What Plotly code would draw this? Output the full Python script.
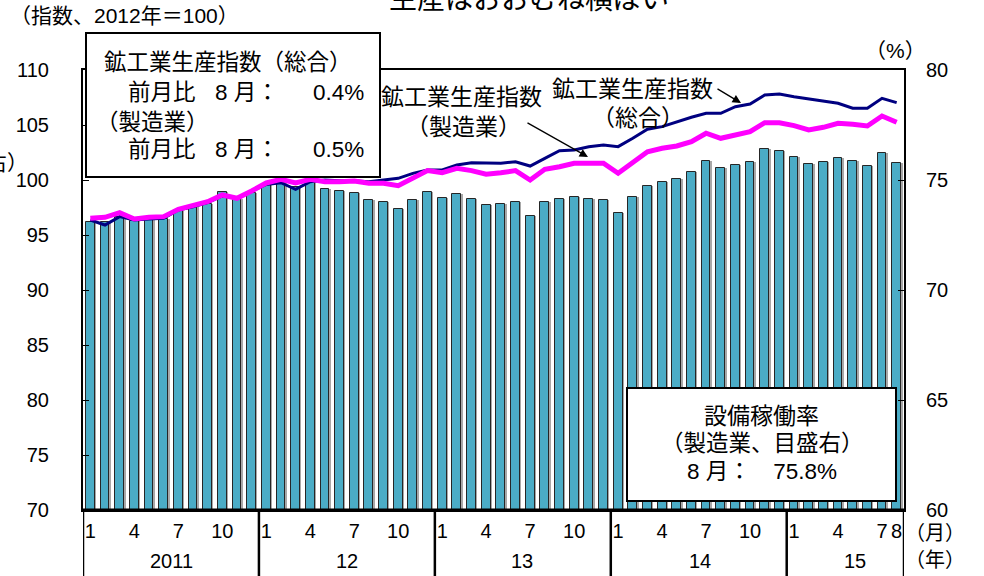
import plotly.graph_objects as go

# ---------------- data ----------------
year_labels = ["2011", "12", "13", "14", "15"]
month_tick_idx = [0, 3, 6, 9, 12, 15, 18, 21, 24, 27, 30, 33, 36, 39, 42, 45, 48, 51, 54, 55]
month_tick_text = ["1", "4", "7", "10", "1", "4", "7", "10", "1", "4", "7", "10",
                   "1", "4", "7", "10", "1", "4", "7", "8"]

# 設備稼働率（製造業、%） 2011/1 - 2015/8
capacity = [73.10, 73.08, 73.30, 73.15, 73.23, 73.23, 73.60, 73.76, 73.91, 74.44, 74.12, 74.40,
            74.77, 74.86, 74.68, 74.91, 74.59, 74.52, 74.41, 74.09, 73.98, 73.67, 74.07, 74.45,
            74.18, 74.38, 74.12, 73.85, 73.92, 73.99, 73.36, 73.99, 74.12, 74.23, 74.12, 74.11,
            73.49, 74.23, 74.75, 74.93, 75.06, 75.35, 75.86, 75.53, 75.67, 75.80, 76.40, 76.31,
            76.06, 75.71, 75.80, 76.00, 75.86, 75.65, 76.23, 75.77]

# 鉱工業生産指数（総合）
total_index = [96.36, 95.91, 96.67, 96.36, 96.45, 96.52, 97.27, 97.57, 97.94, 98.55, 98.34, 98.94,
               99.60, 99.75, 99.15, 99.85, 100.00, 99.94, 99.94, 99.85, 100.00, 100.15, 100.60, 100.90,
               100.91, 101.36, 101.57, 101.52, 101.52, 101.66, 101.27, 101.97, 102.66, 102.73, 103.03, 103.18,
               103.03, 103.79, 104.61, 104.85, 105.30, 105.70, 106.06, 106.06, 106.66, 106.91, 107.73, 107.82,
               107.57, 107.39, 107.21, 106.97, 106.52, 106.52, 107.43, 107.03]

# 鉱工業生産指数（製造業）
mfg_index = [96.52, 96.61, 97.03, 96.45, 96.61, 96.67, 97.34, 97.73, 98.03, 98.64, 98.34, 99.00,
             99.73, 100.06, 99.73, 100.06, 99.85, 99.85, 99.91, 99.70, 99.70, 99.48, 100.15, 100.85,
             100.66, 101.06, 100.85, 100.52, 100.66, 100.85, 100.00, 100.97, 101.21, 101.52, 101.52, 101.52,
             100.61, 101.66, 102.57, 102.88, 103.09, 103.48, 104.25, 103.79, 104.09, 104.39, 105.21, 105.21,
             104.94, 104.55, 104.79, 105.15, 105.06, 104.91, 105.82, 105.25]

idx = list(range(len(capacity)))

# ---------------- layout helpers ----------------
L, T, W, H = 83, 70, 821, 440
FIG_W, FIG_H = 984, 576


def px(x):
    return (x - L) / W


def py(y):
    return (T + H - y) / H


FONT = "Liberation Sans, Arial, Noto Sans CJK JP, sans-serif"

fig = go.Figure()

# bar shadow
fig.add_trace(go.Bar(x=idx, y=capacity, yaxis="y", width=0.6, offset=-0.2,
                     marker=dict(color="#a8a8a8", line=dict(width=0)),
                     showlegend=False, hoverinfo="skip"))
# bars
fig.add_trace(go.Bar(x=idx, y=capacity, yaxis="y", width=0.6, offset=-0.3,
                     marker=dict(color="#4bacc6", line=dict(color="#262626", width=1)),
                     showlegend=False))
# lines
fig.add_trace(go.Scatter(x=idx, y=total_index, yaxis="y2", mode="lines",
                         line=dict(color="#000080", width=3), showlegend=False))
fig.add_trace(go.Scatter(x=idx, y=mfg_index, yaxis="y2", mode="lines",
                         line=dict(color="#ff00ff", width=5), showlegend=False))

shapes = []
# year separators below axis
for b in [-0.5, 11.5, 23.5, 35.5, 47.5, 55.5]:
    shapes.append(dict(type="line", xref="x", yref="paper", x0=b, x1=b,
                       y0=0, y1=-(FIG_H - T - H) / H - 0.01, line=dict(color="black", width=2.5)))
# bottom axis thicker
shapes.append(dict(type="line", xref="paper", yref="paper", x0=0, x1=1, y0=0, y1=0,
                   line=dict(color="black", width=3)))
# legend boxes
shapes.append(dict(type="rect", xref="paper", yref="paper", x0=px(86), x1=px(380),
                   y0=py(177), y1=py(33), fillcolor="white", line=dict(color="black", width=2)))
shapes.append(dict(type="rect", xref="paper", yref="paper", x0=px(627), x1=px(896),
                   y0=py(501), y1=py(388), fillcolor="white", line=dict(color="black", width=2)))

ann = []


def text(t, x, y, size=19, xanchor="left"):
    ann.append(dict(text=t, x=px(x), y=py(y), xref="paper", yref="paper", showarrow=False,
                    xanchor=xanchor, yanchor="middle", font=dict(family=FONT, size=size, color="black")))


# top texts
text("生産はおおむね横ばい", 529, -1, size=28, xanchor="center")
text("（指数、2012年＝100）", 8, 16, size=21)
text("（%）", 895, 50, size=21, xanchor="center")
text("（目盛右）", 30, 163, size=21, xanchor="right")

# box 1
text("鉱工業生産指数（総合）", 102, 62, size=22.5)
text("前月比", 126, 92, size=22.5)
text("8 月：", 213, 92, size=22.5)
text("0.4%", 366, 92, size=22.5, xanchor="right")
text("（製造業）", 94, 122, size=22.5)
text("前月比", 126, 150, size=22.5)
text("8 月：", 213, 150, size=22.5)
text("0.5%", 366, 150, size=22.5, xanchor="right")

# box 2
text("設備稼働率", 761, 416, size=23, xanchor="center")
text("（製造業、目盛右）", 762, 443, size=22.5, xanchor="center")
text("8 月：　75.8%", 762, 471, size=22.5, xanchor="center")

# line labels
text("鉱工業生産指数", 379, 97, size=23)
text("（製造業）", 404, 127, size=23)
text("鉱工業生産指数", 550, 89, size=23)
text("（総合）", 590, 118, size=23)

# arrows
for hx, hy, tx, ty in [(588, 157, 526, 122), (741, 103, 716, 88)]:
    ann.append(dict(x=px(hx), y=py(hy), xref="paper", yref="paper", text="", showarrow=True,
                    ax=tx - hx, ay=ty - hy, arrowhead=2, arrowsize=1.3, arrowwidth=1.3,
                    arrowcolor="black", standoff=0))

# year labels & unit labels
year_centers = [171, 347, 522, 700, 855]
for lab, cx in zip(year_labels, year_centers):
    text(lab, cx, 561, size=20, xanchor="center")
text("（月）", 935, 533, size=20, xanchor="center")
text("（年）", 935, 560, size=20, xanchor="center")

fig.update_layout(
    width=FIG_W, height=FIG_H,
    margin=dict(l=L, r=FIG_W - L - W, t=T, b=FIG_H - T - H, pad=0),
    plot_bgcolor="white", paper_bgcolor="white",
    barmode="overlay", bargap=0,
    font=dict(family=FONT, size=19, color="black"),
    xaxis=dict(range=[-0.5, 55.5], tickmode="array", tickvals=month_tick_idx,
               ticktext=month_tick_text, showgrid=False, zeroline=False,
               showline=True, linecolor="black", linewidth=2, mirror=True,
               ticks="", tickfont=dict(size=20), ticklabelstandoff=2),
    yaxis=dict(range=[60, 80], side="right", tickmode="linear", tick0=60, dtick=5,
               ticks="inside", ticklen=6, tickcolor="black", showgrid=False, zeroline=False,
               showline=True, linecolor="black", linewidth=2, ticklabelstandoff=16,
               tickfont=dict(size=20)),
    yaxis2=dict(range=[70, 110], side="left", overlaying="y", tickmode="linear", tick0=70, dtick=5,
                ticks="inside", ticklen=6, tickcolor="black", showgrid=False, zeroline=False,
                showline=True, linecolor="black", linewidth=2, ticklabelstandoff=28,
                tickfont=dict(size=20)),
    shapes=shapes,
    annotations=ann,
    showlegend=False,
)

fig.write_html("out.html", config={"displayModeBar": False},
               post_script="document.body.style.margin='0';document.body.style.overflow='hidden';")
